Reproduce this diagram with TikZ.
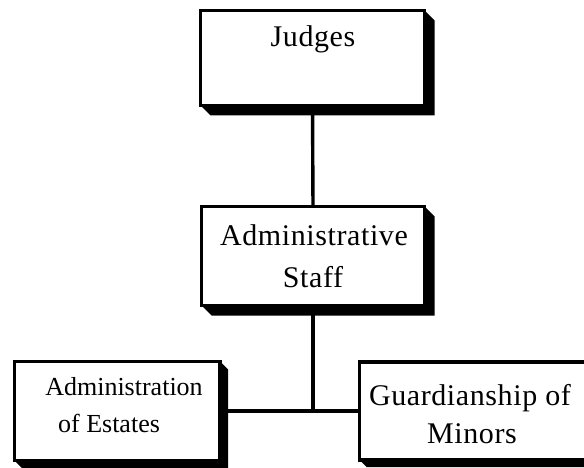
\documentclass[tikz,border=0pt]{standalone}
\usepackage{fontspec}
\setmainfont{Liberation Serif}
\newfontfamily\spacedserif[LetterSpace=2]{Liberation Serif}
\newcommand\boxshadow[2]{%
  \fill (#1.north east) -- ++(#2,#2) -- ([shift={(#2,#2)}]#1.south east)
    -- ([shift={(#2,#2)}]#1.south west) -- (#1.south west) -- (#1.south east) -- cycle;}
\begin{document}
\begin{tikzpicture}[x=1pt,y=-1pt,
  box/.style={draw, line width=3.6pt, fill=white, rectangle, inner sep=0pt, outer sep=0pt},
  conn/.style={line width=3.4pt},
  big/.style={font=\spacedserif\fontsize{30}{30}\selectfont, anchor=base, inner sep=0pt},
  small/.style={font=\fontsize{26}{26}\selectfont, anchor=base, inner sep=0pt}]
\useasboundingbox[fill=white] (0,0) rectangle (584,468);

% boxes
\node[box, minimum width=224pt, minimum height=95pt] (j) at (312.5,58) {};
\node[box, minimum width=223pt, minimum height=99pt] (a) at (313,256) {};
\node[box, minimum width=205.5pt, minimum height=99pt] (e) at (117.25,411) {};
\node[box, minimum width=226.5pt, minimum height=98pt] (g) at (472.75,411) {};

% shadows
\boxshadow{j}{10}
\boxshadow{a}{10}
\boxshadow{e}{8}
\boxshadow{g}{7}

% connectors
\coordinate (jn) at (a.south |- e.east);
\draw[conn] (j.south) -- (a.north);
\draw[conn] (a.south) -- (jn);
\draw[conn] (e.east) -- (g.west);

% texts
\node[big] (jt) at (313,47) {Judges};
\node[big] (at1) at (314,245) {Administrative};
\node[big] (at2) at (313,287) {Staff};
\node[small] (et1) at (124,395) {Administration};
\node[small] (et2) at (109,432) {of Estates};
\node[big] (gt1) at (470,405) {Guardianship of};
\node[big] (gt2) at (472,443) {Minors};
\end{tikzpicture}
\end{document}
